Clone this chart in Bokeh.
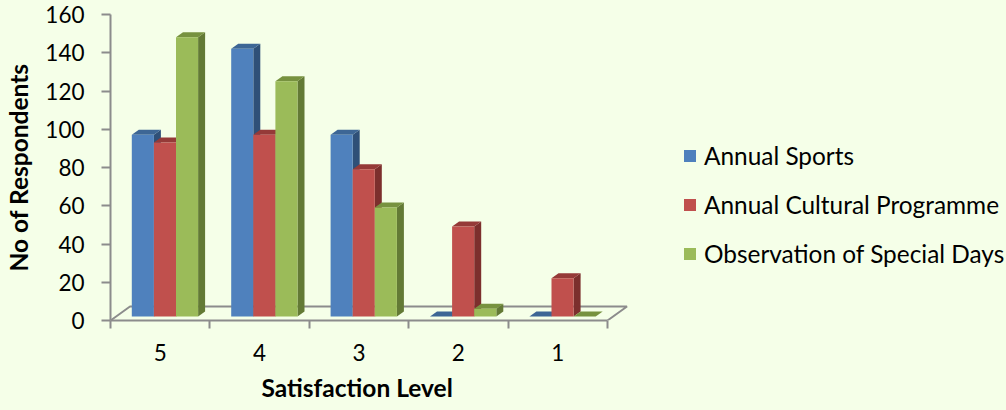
from bokeh.plotting import figure
from bokeh.models import LinearAxis, FixedTicker, Legend, LegendItem, Title
from bokeh.embed import file_html
from bokeh.resources import INLINE

categories = ["5", "4", "3", "2", "1"]
annual_sports = [95, 140, 95, 0, 0]
annual_cultural = [91, 95, 77, 47, 20]
special_days = [146, 123, 57, 4, 0]
series_names = ["Annual Sports", "Annual Cultural Programme", "Observation of Special Days"]
y_ticks = [0, 20, 40, 60, 80, 100, 120, 140, 160]
x_title = "Satisfaction Level"
y_title = "No of Respondents"

BG = "#F5FFE8"
AXIS = "#8C8C8C"
FRONT = ["#4F81BD", "#C0504D", "#9BBB59"]
TOP = ["#3D6695", "#953A38", "#77923F"]
SIDE = ["#2F5078", "#7C2F2D", "#637A35"]
FONT = "Lato"
TICK_SIZE = "22.5px"
TITLE_SIZE = "24.5px"

W, H = 1006, 410
L, R, T, B = 110, 0, 14, 90
px_x = 99.4
px_y = (H - T - B) / 160
x_end = (W - L - R) / px_x

p = figure(width=W, height=H, output_backend="svg", toolbar_location=None,
           x_range=(0, x_end), y_range=(0, 160), x_axis_type=None, y_axis_type=None,
           min_border_left=L, min_border_right=R, min_border_top=T, min_border_bottom=B,
           background_fill_color=BG, border_fill_color=BG, outline_line_color=None)
p.grid.visible = False

# floor
fdx, fdy = 19.5 / px_x, 14 / px_y
p.line([0, fdx, 5 + fdx, 5], [0, fdy, fdy, 0], line_color=AXIS, line_width=2)

# bars
gap = 21.3 / px_x
bw = 22.1 / px_x
base = 4 / px_y
ddx, ddy = 7 / px_x, 5 / px_y
items = []
for s, vals in enumerate([annual_sports, annual_cultural, special_days]):
    x0 = [i + gap + s * bw for i in range(len(vals))]
    x1 = [x + bw for x in x0]
    top = [base + v for v in vals]
    p.patches([[a, a + ddx, a + ddx, a] for a in x1],
              [[base, base + ddy, t + ddy, t] for t in top],
              fill_color=SIDE[s], line_color=None)
    p.patches([[a, a + ddx, b + ddx, b] for a, b in zip(x0, x1)],
              [[t, t + ddy, t + ddy, t] for t in top],
              fill_color=TOP[s], line_color=None)
    r = p.quad(left=x0, right=x1, bottom=[base] * len(vals), top=top,
               fill_color=FRONT[s], line_color=None)
    items.append(LegendItem(label=series_names[s], renderers=[r]))

xa = LinearAxis(ticker=FixedTicker(ticks=[i + 0.5 for i in range(5)],
                                   minor_ticks=list(range(6))),
                major_label_overrides={i + 0.5: c for i, c in enumerate(categories)},
                bounds=(0, 5),
                major_tick_line_color=None, major_tick_out=0, major_tick_in=0,
                minor_tick_out=8, minor_tick_in=0, minor_tick_line_color=AXIS, minor_tick_line_width=2,
                axis_line_color=AXIS, axis_line_width=2,
                major_label_text_font=FONT, major_label_text_font_size=TICK_SIZE, major_label_text_color="#000000",
                major_label_standoff=15)
p.add_layout(xa, "below")
p.add_layout(Title(text=x_title, align="left", offset=151, standoff=16, vertical_align="middle",
                   text_font=FONT, text_font_size=TITLE_SIZE, text_font_style="bold", text_color="#000000",
                   text_line_height=1.0),
             "below")
ya = LinearAxis(ticker=FixedTicker(ticks=y_ticks), axis_label=y_title,
                major_tick_out=9, major_tick_in=0, major_tick_line_color=AXIS, major_tick_line_width=2,
                axis_line_color=AXIS, axis_line_width=2,
                major_label_text_font=FONT, major_label_text_font_size=TICK_SIZE, major_label_text_color="#000000",
                major_label_standoff=17,
                axis_label_text_font=FONT, axis_label_text_font_size=TITLE_SIZE, axis_label_text_font_style="bold",
                axis_label_text_color="#000000", axis_label_standoff=9)
p.add_layout(ya, "left")

legend = Legend(items=items, location=(682 - 110, 52), margin=0, padding=0,
                background_fill_alpha=0, border_line_color=None,
                glyph_width=15, glyph_height=15, label_height=15, spacing=20, label_standoff=7,
                label_text_font=FONT, label_text_font_size="24.4px", label_text_color="#000000")
p.add_layout(legend, "center")

html = file_html(p, INLINE).replace("<head>", "<head><style>html,body{background:%s}</style>" % BG, 1)
open("out.html", "w").write(html)
